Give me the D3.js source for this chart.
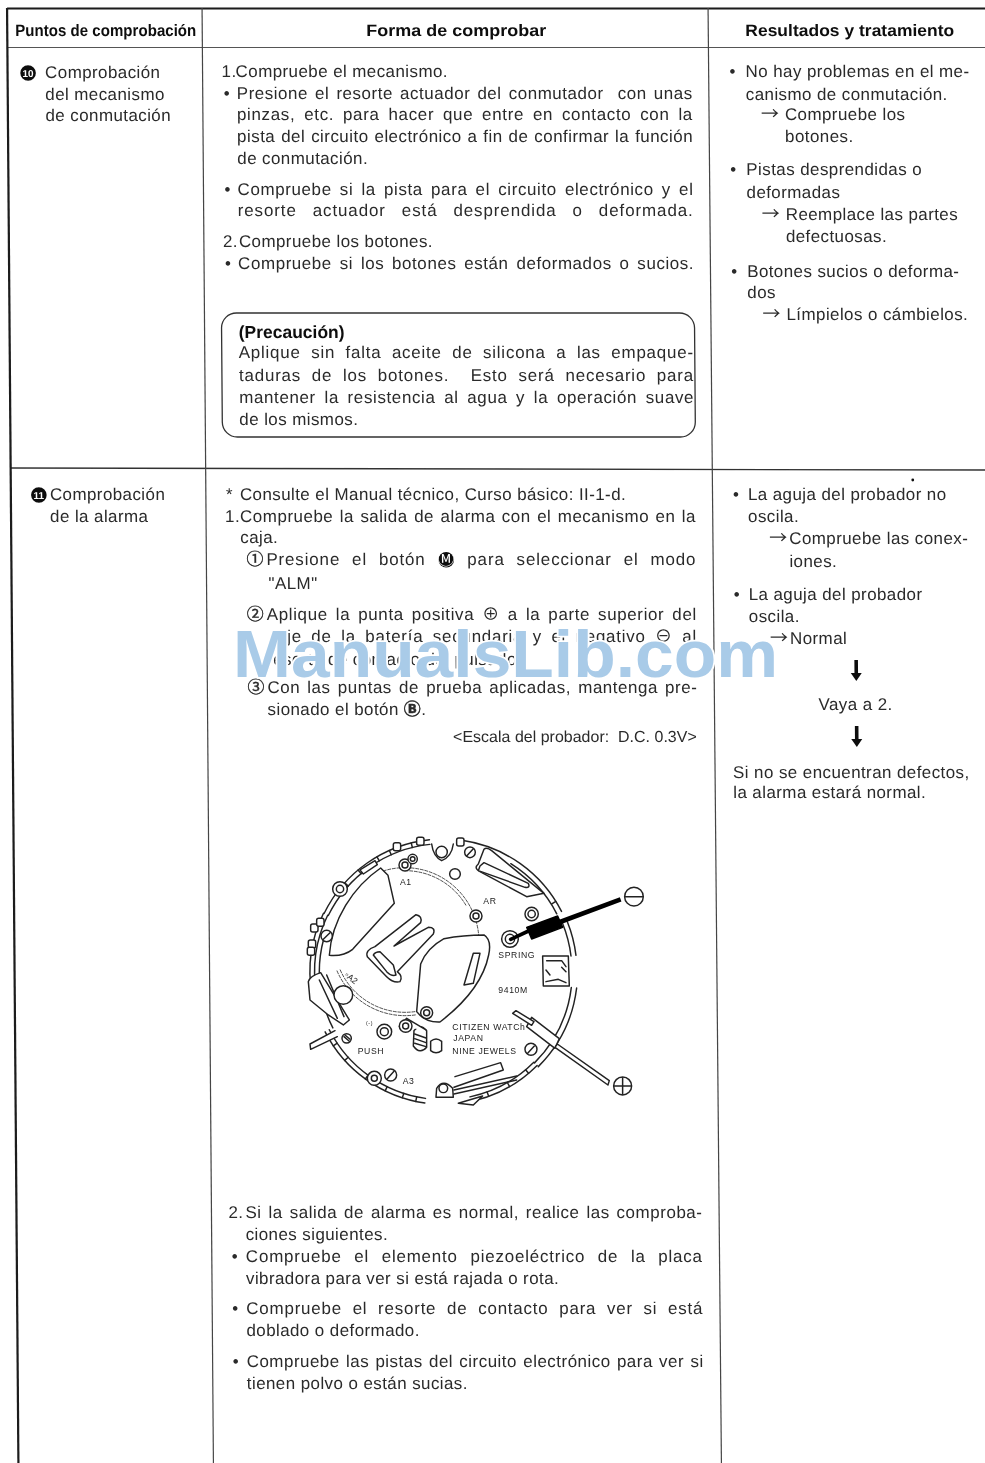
<!DOCTYPE html>
<html>
<head>
<meta charset="utf-8">
<script src="https://cdn.jsdelivr.net/npm/d3@7"></script>
<style>
  html, body { margin: 0; background: #fff; }
  svg { display: block; }
  text { font-family: "Liberation Sans", "Noto Sans CJK JP", "DejaVu Sans", sans-serif; }
</style>
</head>
<body>
<div id="page"></div>
<script>
// ---- contents of the page
let headers = ["Puntos de comprobación", "Forma de comprobar", "Resultados y tratamiento"];
let checkNumbers = ["10", "11"];

let pointLines = ["Comprobación", "del mecanismo", "de conmutación", "Comprobación", "de la alarma"];

let methodLines1 = [
  "1.", "Compruebe el mecanismo.",
  "•", "Presione el resorte actuador del conmutador  con unas",
  "pinzas, etc. para hacer que entre en contacto con la",
  "pista del circuito electrónico a fin de confirmar la función",
  "de conmutación.",
  "•", "Compruebe si la pista para el circuito electrónico y el",
  "resorte actuador está desprendida o deformada.",
  "2.", "Compruebe los botones.",
  "•", "Compruebe si los botones están deformados o sucios."
];
let cautionTitle = "(Precaución)";
let cautionLines = [
  "Aplique sin falta aceite de silicona a las empaque-",
  "taduras de los botones.  Esto será necesario para",
  "mantener la resistencia al agua y la operación suave",
  "de los mismos."
];
let methodLines2 = [
  "*", "Consulte el Manual técnico, Curso básico: II-1-d.",
  "1.", "Compruebe la salida de alarma con el mecanismo en la",
  "caja.",
  "①", "Presione el botón Ⓜ para seleccionar el modo",
  "\"ALM\"",
  "②", "Aplique la punta positiva ⊕ a la parte superior del",
  "eje de la batería secundaria y el negativo ⊖ al",
  "resorte de contacto del pulsador.",
  "③", "Con las puntas de prueba aplicadas, mantenga pre-",
  "sionado el botón Ⓑ."
];
let scaleNote = "<Escala del probador:  D.C. 0.3V>";
let methodLines3 = [
  "2.", "Si la salida de alarma es normal, realice las comproba-",
  "ciones siguientes.",
  "•", "Compruebe el elemento piezoeléctrico de la placa",
  "vibradora para ver si está rajada o rota.",
  "•", "Compruebe el resorte de contacto para ver si está",
  "doblado o deformado.",
  "•", "Compruebe las pistas del circuito electrónico para ver si",
  "tienen polvo o están sucias."
];
let resultLines1 = [
  "•", "No hay problemas en el me-",
  "canismo de conmutación.",
  "→", "Compruebe los",
  "botones.",
  "•", "Pistas desprendidas o",
  "deformadas",
  "→", "Reemplace las partes",
  "defectuosas.",
  "•", "Botones sucios o deforma-",
  "dos",
  "→", "Límpielos o cámbielos."
];
let resultLines2 = [
  "•", "La aguja del probador no",
  "oscila.",
  "→", "Compruebe las conex-",
  "iones.",
  "•", "La aguja del probador",
  "oscila.",
  "→", "Normal"
];
let goToLine = "Vaya a 2.";
let resultLines3 = ["Si no se encuentran defectos,", "la alarma estará normal."];
let partLabels = ["A1", "AR", "SPRING", "9410M", "CITIZEN WATCh", "JAPAN", "NINE JEWELS", "PUSH", "A3", "(-)"];
let watermark = "ManualsLib.com";

// ---- layout of those lines, [x, y of line centre, right edge if justified]
let pointRows = [[44.5,73],[44.5,95],[44.5,116],[46,495],[46,517]];
let methodRows1 = [[221,72],[235,72],[223,94],[236,94,692],[236,115,692],[236,137,692],[236,159],
  [223,190],[236,190,692],[236,211,692],[221,242],[237,242],[223,264],[236,264,692]];
let cautionRows = [[236,353,691],[236,376,691],[236,398,691],[236,420]];
let methodRows2 = [[222,495],[236,495],[221,517],[236,517,692],[236,538],
  [242,560],[262,560,692],[264,584],[242,615],[262,615,692],[272,637,692],[262,660],
  [242,688],[262,688,692],[262,710]];
let methodRows3 = [[219,1213],[236,1213,693],[236,1235],[222,1257],[236,1257,693],[236,1279],
  [222,1309],[236,1309,693],[236,1331],[222,1362],[236,1362,693],[236,1384]];
let resultRows1 = [[729,72],[745,72],[745,95],[760,115],[784,115],[784,137],
  [729,170],[745,170],[745,193],[760,215],[784,215],[784,237],
  [729,272],[745,272],[745,293],[760,315],[784,315]];
let resultRows2 = [[729,495],[744,495],[744,517],[765,539],[785,539],[785,562],
  [729,595],[744,595],[744,617],[765,639],[785,639]];
let resultRows3 = [[727,773],[727,793]];

const width = 985, height = 1463;
const ink = "#2b2b2b";
const bodySize = 17, tracking = 0.4;

let svg = d3.select("#page").append("svg")
    .attr("width", width)
    .attr("height", height);

let defs = svg.append("defs");
defs.append("filter").attr("id", "scan")
    .append("feGaussianBlur").attr("stdDeviation", 0.32);

let scan = svg.append("g").attr("filter", "url(#scan)");

// the scanned page leans a little, so the table is sheared
let table = scan.append("g").attr("transform", "skewX(0.447)");

// ---- rules of the table
function rule(x1, y1, x2, y2, w, c) {
  table.append("line")
      .attr("x1", x1).attr("y1", y1).attr("x2", x2).attr("y2", y2)
      .attr("stroke", c || "#222").attr("stroke-width", w);
}
rule(7, 8.5, width, 8.5, 2.2, "#1a1a1a");
rule(7, 47.5, width, 47.5, 1.2, "#555");
rule(7, 468, width, 470, 1.3, "#333");
rule(7, 8, 7, height, 2.2, "#1a1a1a");
rule(202, 8, 202, height, 1.2, "#444");
rule(708, 8, 710, height, 1.2, "#444");

// ---- text
function drawLines(lines, rows) {
  lines.forEach(function(line, i) {
    let r = rows[i];
    let t = table.append("text")
        .attr("class", "body")
        .attr("x", r[0]).attr("y", r[1] + 5.5)
        .attr("fill", ink)
        .attr("font-size", bodySize)
        .style("letter-spacing", tracking + "px")
        .style("white-space", "pre");
    // the button marks get their own tspan so they can be made heavier
    line.split(/([ⓂⒷ])/).forEach(function(part) {
      let s = t.append("tspan").text(part);
      if (part == "Ⓑ") s.attr("font-weight", "bold").attr("stroke", ink).attr("stroke-width", 0.5);
      if (part == "Ⓜ") s.attr("fill", "#fff");
    });
    if (line == "→") t.style("font-family", '"Noto Sans CJK JP"').attr("font-size", 18);
    if ("①②③".includes(line)) t.attr("stroke", ink).attr("stroke-width", 0.4);
    if (r[2]) {
      let spaces = line.split(" ").length - 1;
      let extra = r[2] - r[0] - t.node().getComputedTextLength();
      // most of the slack goes between words like the typesetter did
      t.style("letter-spacing", (tracking + 0.3 * extra / line.length) + "px")
       .style("word-spacing", (0.7 * extra / Math.max(spaces, 1)) + "px");
    }
    // black disc goes behind the white mark
    let k = line.indexOf("Ⓜ");
    if (k >= 0) {
      let a = t.node().getStartPositionOfChar(k), b = t.node().getEndPositionOfChar(k);
      table.insert("circle", "text")
          .attr("cx", (a.x + b.x) / 2 - 0.2).attr("cy", r[1] - 0.2)
          .attr("r", 7.8).attr("fill", "#111");
    }
  });
}
[[pointLines, pointRows], [methodLines1, methodRows1], [cautionLines, cautionRows],
 [methodLines2, methodRows2], [methodLines3, methodRows3], [resultLines1, resultRows1],
 [resultLines2, resultRows2], [resultLines3, resultRows3]].forEach(function(d) {
  drawLines(d[0], d[1]);
});

let headerBoxes = [[15, 181], [366, 180], [745, 209]];
table.selectAll(".head").data(headers).enter().append("text")
    .attr("class", "head")
    .attr("x", (d, i) => headerBoxes[i][0])
    .attr("y", 36)
    .attr("font-size", 16.5)
    .attr("font-weight", "bold")
    .attr("fill", "#111")
    .attr("textLength", (d, i) => headerBoxes[i][1])
    .attr("lengthAdjust", "spacingAndGlyphs")
    .text(d => d);

table.append("text")
    .attr("x", 236).attr("y", 338)
    .attr("font-size", 17.5).attr("font-weight", "bold").attr("fill", "#111")
    .text(cautionTitle);

table.append("text")
    .attr("x", 691).attr("y", 742)
    .attr("text-anchor", "end").attr("fill", ink).attr("font-size", 16)
    .style("white-space", "pre")
    .text(scaleNote);

table.append("text")
    .attr("x", 850).attr("y", 710.5)
    .attr("text-anchor", "middle").attr("fill", ink).attr("font-size", bodySize)
    .style("letter-spacing", tracking + "px")
    .text(goToLine);

// caution box
table.append("rect")
    .attr("x", 219).attr("y", 313).attr("width", 473).attr("height", 124).attr("rx", 15)
    .attr("fill", "none").attr("stroke", "#333").attr("stroke-width", 1.3);

// numbered black discs
let discRows = [[27.5, 73], [35, 495]];
let discs = table.selectAll(".disc").data(checkNumbers).enter().append("g")
    .attr("class", "disc")
    .attr("transform", (d, i) => `translate(${discRows[i][0]},${discRows[i][1]})`);
discs.append("circle").attr("r", 7.8).attr("fill", "#111");
discs.append("text")
    .attr("text-anchor", "middle").attr("y", 3.6)
    .attr("font-size", 10).attr("font-weight", "bold").attr("fill", "#fff")
    .text(d => d);

// bold down arrows of the right column
let downArrows = [[851, 670], [851, 736]];
table.selectAll(".down").data(downArrows).enter().append("path")
    .attr("class", "down")
    .attr("d", d => {
      let p = d3.path();
      p.moveTo(d[0] - 1.8, d[1] - 10); p.lineTo(d[0] + 1.8, d[1] - 10);
      p.lineTo(d[0] + 1.8, d[1] + 3); p.lineTo(d[0] + 5.5, d[1] + 3);
      p.lineTo(d[0], d[1] + 11); p.lineTo(d[0] - 5.5, d[1] + 3);
      p.lineTo(d[0] - 1.8, d[1] + 3); p.closePath();
      return p.toString();
    })
    .attr("fill", "#111");

table.append("circle").attr("cx", 909).attr("cy", 480).attr("r", 1.4).attr("fill", "#111");

// ---- the movement drawing, in units of a third of a pixel
let plate = scan.append("g")
    .attr("transform", "translate(260,840) scale(0.3333)")
    .attr("fill", "none")
    .attr("stroke", "#222")
    .attr("stroke-width", 4.4)
    .attr("stroke-linejoin", "round")
    .attr("stroke-linecap", "round");

const cx = 550, cy = 395;
function arcPath(x, y, r, a0, a1) {
  let p = d3.path();
  p.arc(x, y, r, (a0 - 90) * Math.PI / 180, (a1 - 90) * Math.PI / 180);
  return p.toString();
}

// rim pieces as radius, start and end angle clockwise from the top
let rimArcs = [[398,-64,-6],[384,-64,-6],[398,8,63],[382,32,63],[401,68,83],[386,68,83],
  [403,97,135],[387,97,135],[398,135,172],[384,135,168],[398,188,243],[384,188,243],
  [372,243,285],[400,-100,-64],[386,-100,-64]];
rimArcs.forEach(function(a) { plate.append("path").attr("d", arcPath(cx, cy, a[0], a[1], a[2])); });

// short cross strokes in the rim
let rimTicks = [-48,-40,-30,-24,-14,58,140,150,160,192,198,206,216,228,236];
plate.selectAll(".tick").data(rimTicks).enter().append("path")
    .attr("class", "tick")
    .attr("d", a => {
      let t = (a - 90) * Math.PI / 180;
      return `M${cx + 384 * Math.cos(t)} ${cy + 384 * Math.sin(t)} L${cx + 398 * Math.cos(t)} ${cy + 398 * Math.sin(t)}`;
    });

// dashed outline of the battery recess
let recessArcs = [[222,-17,88],[213,0,60],[222,172,247],[212,172,247]];
recessArcs.forEach(function(a) {
  plate.append("path")
      .attr("d", arcPath(435, 305, a[0], a[1], a[2]))
      .attr("stroke-width", 2.4)
      .attr("stroke-dasharray", "9 5");
});

let shapes = [
  "M208 346 C215 240 280 140 362 84 L384 106 L403 190 L278 328 Q250 350 208 346Z",
  "M470 515 L482 372 Q500 325 552 296 Q610 285 672 285 Q696 300 686 345 Q665 450 540 546 Q495 548 470 515Z",
  "M345 320 L468 224 Q488 228 482 248 L402 318 L505 262 Q528 262 520 282 L412 395 Q430 410 420 425 Q400 430 380 410 L322 350 Q315 330 345 320Z",
  "M340 345 Q345 335 360 335 L400 375 L408 405 Q395 410 380 395Z",
  "M672 28 Q680 20 695 32 L852 160 L800 170 L660 95 Q640 85 655 72Z",
  "M660 78 L672 68 L805 130 Q812 145 795 142 L655 92Z",
  "M515 12 Q520 50 545 62 Q575 50 580 12",
  "M848 348 L925 348 L928 438 L850 438Z",
  "M860 362 L905 362 L918 380 M858 390 L870 405 M905 382 L918 395 M858 425 L895 418 L918 428",
  "M145 425 Q150 408 182 398 L268 540 L250 555 L205 525 L150 480Z",
  "M178 420 L232 535 M200 405 L252 530",
  "M225 572 L150 612 L152 628 L232 590",
  "M528 772 L530 745 Q550 715 578 745 L580 772Z",
  "M585 710 L722 668 L730 690 L582 742 M582 750 L770 708 M582 762 L770 720 M595 790 L668 768 L640 795Z",
  "M462 572 Q480 548 500 572 L500 622 Q480 645 460 618Z",
  "M512 604 Q528 590 545 604 L545 632 Q528 645 512 632Z",
  "M464 582 L498 594 M464 596 L498 608 M464 610 L498 620",
  "M418 560 L440 535 L498 570",
  "M640 340 L660 340 L640 430 L612 435Z",
  "M300 90 L345 62 L352 74 L310 102Z"
];
plate.selectAll(".shape").data(shapes).enter().append("path")
    .attr("class", "shape")
    .attr("d", d => d)
    .attr("fill", "#fff");

// little blocks on the left lugs and the top edge
let lugs = [[145,300],[142,322],[152,252],[170,235],[400,8],[470,-8],[590,-6]];
plate.selectAll(".lug").data(lugs).enter().append("rect")
    .attr("class", "lug")
    .attr("x", d => d[0]).attr("y", d => d[1])
    .attr("width", 22).attr("height", 24).attr("rx", 6)
    .attr("fill", "#fff");

let holes = [[585,102,16],[648,228,18],[648,228,9],[815,222,20],[815,222,11],[750,297,25],[750,297,14],
  [545,36,17],[630,37,16],[435,75,18],[435,75,9],[458,57,14],[458,57,7],[240,147,22],[240,147,11],[200,288,17],
  [373,575,22],[373,575,12],[260,595,14],[437,558,19],[437,558,9],[813,628,18],[392,705,18],
  [343,715,21],[343,715,9],[550,745,13],[500,518,18],[500,518,9],[250,465,28]];
plate.selectAll(".hole").data(holes).enter().append("circle")
    .attr("class", "hole")
    .attr("cx", d => d[0]).attr("cy", d => d[1]).attr("r", d => d[2])
    .attr("fill", "#fff");
// screw slots
plate.append("path").attr("d", "M620 48 L640 26 M190 298 L210 278 M803 640 L823 618 M382 716 L402 694 M252 590 L268 604 M255 585 L270 598");

let labelRows = [[420,136],[670,192],[715,353],[715,459],[577,570],[580,604],[577,641],[293,643],[428,731],[318,556]];
plate.selectAll(".part").data(partLabels).enter().append("text")
    .attr("class", "part")
    .attr("x", (d, i) => labelRows[i][0])
    .attr("y", (d, i) => labelRows[i][1])
    .attr("stroke", "none").attr("fill", "#222")
    .attr("font-size", (d, i) => i == 9 ? 16 : 26)
    .style("letter-spacing", "1.8px")
    .text(d => d);
plate.append("text")
    .attr("transform", "translate(252,408) rotate(38)")
    .attr("stroke", "none").attr("fill", "#222").attr("font-size", 26)
    .text("▫A2");

// test probes
plate.append("path").attr("d", "M752 298 L812 270").attr("stroke", "#000").attr("stroke-width", 11);
plate.append("path").attr("d", "M800 262 L893 228 L908 262 L815 297Z").attr("fill", "#000").attr("stroke", "#000");
plate.append("path").attr("d", "M900 246 L1082 178").attr("stroke", "#000").attr("stroke-width", 14).attr("stroke-linecap", "butt");
plate.append("circle").attr("cx", 1122).attr("cy", 170).attr("r", 28);
plate.append("path").attr("d", "M1096 170 H1148");

plate.append("path").attr("d", "M815 532 L898 596 L885 625 L800 560Z").attr("fill", "#fff");
plate.append("path").attr("d", "M768 512 L822 545 L815 556 L758 520Z").attr("fill", "#fff");
plate.append("path").attr("d", "M892 612 L1048 722 L1044 735 L885 622Z").attr("fill", "#fff");
plate.append("circle").attr("cx", 1088).attr("cy", 738).attr("r", 27);
plate.append("path").attr("d", "M1063 738 H1113 M1088 713 V763");

// ---- watermark, with the white halo that eats the text under it
svg.append("text")
    .attr("x", 233).attr("y", 677)
    .attr("font-size", 66)
    .attr("font-weight", "bold")
    .attr("textLength", 545)
    .attr("lengthAdjust", "spacingAndGlyphs")
    .attr("fill", "#a9cbe8")
    .attr("stroke", "#fff").attr("stroke-width", 3.5)
    .style("paint-order", "stroke")
    .text(watermark);
</script>
</body>
</html>
